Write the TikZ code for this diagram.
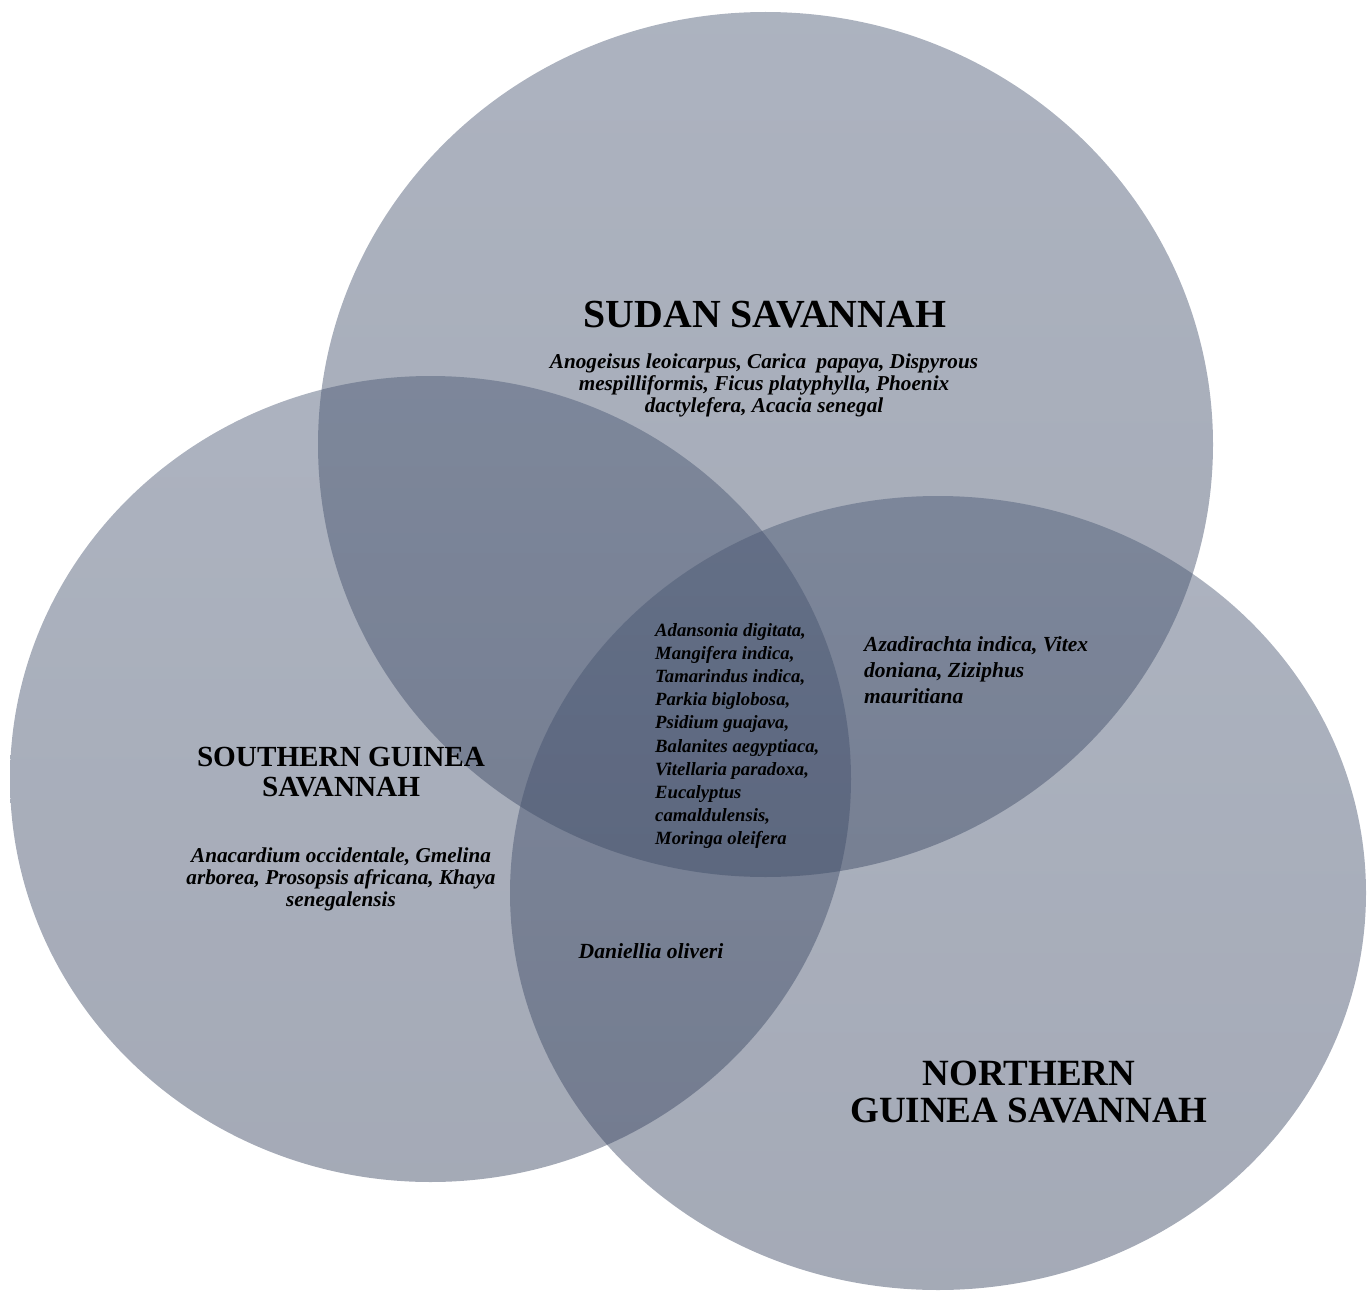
\documentclass[tikz,border=0pt]{standalone}
\usepackage{fontspec}
\setmainfont{Liberation Serif}
\usetikzlibrary{positioning}

\definecolor{zonetop}{RGB}{72,86,114}
\definecolor{zonebot}{RGB}{54,66,94}

\tikzset{
  zone/.style={top color=zonetop, bottom color=zonebot, fill opacity=0.45, draw=none},
  title/.style={inner sep=0pt, align=center, font=\bfseries},
  species/.style={inner sep=0pt, font=\bfseries\itshape}
}

\begin{document}
\begin{tikzpicture}[x=1pt,y=-1pt]
  \useasboundingbox (0,0) rectangle (1371,1292);
  % the three zones
  \shade[zone] (765.5,444.5) ellipse [x radius=447.5, y radius=432.5];
  \shade[zone] (430.5,779) ellipse [x radius=420.5, y radius=403];
  \shade[zone] (938,893) ellipse [x radius=428, y radius=397];

  \node[title, font=\fontsize{39.8}{41}\selectfont\bfseries] (t_sudan) at (765,315) {SUDAN SAVANNAH};
  \node[species, align=center, font=\fontsize{21.2}{22}\selectfont\bfseries\itshape] (s_sudan) at (764,385)
    {Anogeisus leoicarpus, Carica\ \ papaya, Dispyrous\\ mespilliformis, Ficus platyphylla, Phoenix\\ dactylefera, Acacia senegal};

  \node[title, font=\fontsize{29.2}{30}\selectfont\bfseries] (t_south) at (341,772) {SOUTHERN GUINEA\\ SAVANNAH};
  \node[species, align=center, font=\fontsize{21.2}{22}\selectfont\bfseries\itshape] (s_south) at (341,879)
    {Anacardium occidentale, Gmelina\\ arborea, Prosopsis africana, Khaya\\ senegalensis};

  \node[title, font=\fontsize{37}{37}\selectfont\bfseries] (t_north) at (1029,1092) {NORTHERN\\ GUINEA SAVANNAH};

  \node[species, align=left, anchor=west, font=\fontsize{18.7}{23.1}\selectfont\bfseries\itshape] (s_all) at (655,736)
    {Adansonia digitata,\\ Mangifera indica,\\ Tamarindus indica,\\ Parkia biglobosa,\\ Psidium guajava,\\
     Balanites aegyptiaca,\\ Vitellaria paradoxa,\\ Eucalyptus\\ camaldulensis,\\ Moringa oleifera};
  \node[species, align=left, anchor=west, font=\fontsize{21.5}{26}\selectfont\bfseries\itshape] (s_sn) at (864,670)
    {Azadirachta indica, Vitex\\ doniana, Ziziphus\\ mauritiana};
  \node[species, font=\fontsize{21.6}{26}\selectfont\bfseries\itshape] (s_ns) at (651,951) {Daniellia oliveri};
\end{tikzpicture}
\end{document}
